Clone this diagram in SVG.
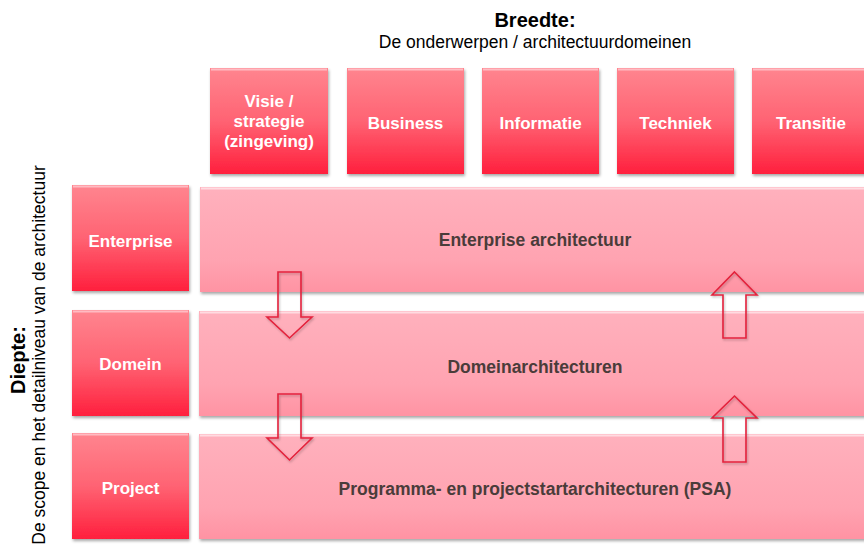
<svg xmlns="http://www.w3.org/2000/svg" width="864" height="549" viewBox="0 0 864 549">
<defs>
<linearGradient id="gRed" x1="0" y1="0" x2="0" y2="1">
<stop offset="0" stop-color="#ff858f"/>
<stop offset="0.5" stop-color="#ff6373"/>
<stop offset="1" stop-color="#ff1f3d"/>
</linearGradient>
<linearGradient id="gPink" x1="0" y1="0" x2="0" y2="1">
<stop offset="0" stop-color="#ffb1bd"/>
<stop offset="0.7" stop-color="#ffa3b1"/>
<stop offset="1" stop-color="#ff93a3"/>
</linearGradient>
<filter id="sh" x="-5%" y="-5%" width="115%" height="120%">
<feDropShadow dx="1" dy="2" stdDeviation="1.5" flood-color="#000" flood-opacity="0.35"/>
</filter>
<filter id="shA" x="-20%" y="-20%" width="140%" height="140%">
<feDropShadow dx="1" dy="1.5" stdDeviation="1" flood-color="#000" flood-opacity="0.25"/>
</filter>
</defs>
<style>
.box{fill:url(#gRed);filter:url(#sh)}
.band{fill:url(#gPink);filter:url(#sh)}
.hl{stroke:#ffc9cf;stroke-width:2;opacity:0.8}
.hlp{stroke:#ffe0e6;stroke-width:2;opacity:0.9}
.lbl{font-family:"Liberation Sans",Arial,sans-serif;font-weight:bold;font-size:17px;fill:#ffffff;text-anchor:middle}
.blbl{font-family:"Liberation Sans",Arial,sans-serif;font-weight:bold;font-size:17.5px;fill:#4a3c3a;text-anchor:middle}
.ttl{font-family:"Liberation Sans",Arial,sans-serif;font-weight:bold;font-size:20px;fill:#000;text-anchor:middle}
.sub{font-family:"Liberation Sans",Arial,sans-serif;font-size:17.5px;fill:#000;text-anchor:middle}
.arr{fill:none;stroke:#e3223c;stroke-width:1.6;stroke-linejoin:miter;filter:url(#shA)}
</style>
<rect width="864" height="549" fill="#ffffff"/>

<g id="title-breedte">
<text class="ttl" x="535" y="27">Breedte:</text>
<text class="sub" x="535" y="48">De onderwerpen / architectuurdomeinen</text>
</g>
<g id="title-diepte">
<text class="ttl" transform="translate(25,360) rotate(-90)">Diepte:</text>
<text class="sub" transform="translate(45,355) rotate(-90)">De scope en het detailniveau van de architectuur</text>
</g>

<g id="band-enterprise">
<rect class="band" x="200" y="187" width="680" height="105"/>
<line class="hlp" x1="201" y1="188.5" x2="880" y2="188.5"/>
<text class="blbl" x="535" y="246">Enterprise architectuur</text>
</g>
<g id="band-domein">
<rect class="band" x="199" y="311" width="680" height="105"/>
<line class="hlp" x1="200" y1="312.5" x2="880" y2="312.5"/>
<text class="blbl" x="535" y="373">Domeinarchitecturen</text>
</g>
<g id="band-project">
<rect class="band" x="199" y="434" width="680" height="105"/>
<line class="hlp" x1="200" y1="435.5" x2="880" y2="435.5"/>
<text class="blbl" x="535" y="495">Programma- en projectstartarchitecturen (PSA)</text>
</g>

<g id="col-visie">
<rect class="box" x="210" y="68" width="118" height="106"/>
<line class="hl" x1="211" y1="69.5" x2="327" y2="69.5"/>
<text class="lbl" x="269" y="107">Visie /</text>
<text class="lbl" x="269" y="127">strategie</text>
<text class="lbl" x="269" y="147">(zingeving)</text>
</g>
<g id="col-business">
<rect class="box" x="347" y="68" width="117" height="106"/>
<line class="hl" x1="348" y1="69.5" x2="463" y2="69.5"/>
<text class="lbl" x="405.5" y="129">Business</text>
</g>
<g id="col-informatie">
<rect class="box" x="482" y="68" width="117" height="106"/>
<line class="hl" x1="483" y1="69.5" x2="598" y2="69.5"/>
<text class="lbl" x="540.5" y="129">Informatie</text>
</g>
<g id="col-techniek">
<rect class="box" x="617" y="68" width="117" height="106"/>
<line class="hl" x1="618" y1="69.5" x2="733" y2="69.5"/>
<text class="lbl" x="675.5" y="129">Techniek</text>
</g>
<g id="col-transitie">
<rect class="box" x="752" y="68" width="117" height="106"/>
<line class="hl" x1="753" y1="69.5" x2="868" y2="69.5"/>
<text class="lbl" x="811" y="129">Transitie</text>
</g>

<g id="row-enterprise">
<rect class="box" x="72" y="185" width="117" height="106"/>
<line class="hl" x1="73" y1="186.5" x2="188" y2="186.5"/>
<text class="lbl" x="130.5" y="247">Enterprise</text>
</g>
<g id="row-domein">
<rect class="box" x="72" y="310" width="117" height="106"/>
<line class="hl" x1="73" y1="311.5" x2="188" y2="311.5"/>
<text class="lbl" x="130.5" y="370">Domein</text>
</g>
<g id="row-project">
<rect class="box" x="72" y="433" width="117" height="106"/>
<line class="hl" x1="73" y1="434.5" x2="188" y2="434.5"/>
<text class="lbl" x="130.5" y="494">Project</text>
</g>

<g id="connectors">
<polygon class="arr" points="278,272 301,272 301,317 312,317 289.5,338 267,317 278,317"/>
<polygon class="arr" points="278,394 301,394 301,438 312,438 289.5,460 267,438 278,438"/>
<polygon class="arr" points="734.5,272 757,295 746,295 746,338 723,338 723,295 712,295"/>
<polygon class="arr" points="734.5,396 757,418 746,418 746,462 723,462 723,418 712,418"/>
</g>
</svg>
